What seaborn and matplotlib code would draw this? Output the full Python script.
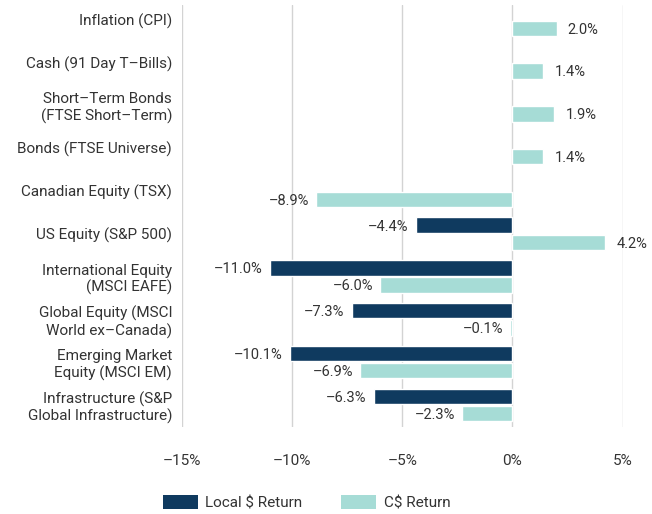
import numpy as np
import pandas as pd
import matplotlib
matplotlib.use("Agg")
import matplotlib.pyplot as plt
import seaborn as sns
from matplotlib.patches import Patch

categories = [
    "Inflation (CPI)",
    "Cash (91 Day T-Bills)",
    "Short-Term Bonds\n(FTSE Short-Term)",
    "Bonds (FTSE Universe)",
    "Canadian Equity (TSX)",
    "US Equity (S&P 500)",
    "International Equity\n(MSCI EAFE)",
    "Global Equity (MSCI\nWorld ex-Canada)",
    "Emerging Market\nEquity (MSCI EM)",
    "Infrastructure (S&P\nGlobal Infrastructure)",
]
local_return = [np.nan, np.nan, np.nan, np.nan, np.nan, -4.4, -11.0, -7.3, -10.1, -6.3]
cad_return = [2.0, 1.4, 1.9, 1.4, -8.9, 4.2, -6.0, -0.1, -6.9, -2.3]
series_names = ["Local $ Return", "C$ Return"]
x_ticks = [-15, -10, -5, 0, 5]

dark = "#0f3a5f"
teal = "#a6dcd6"
txt = "#333333"

sns.set_theme(style="white")
plt.rcParams["font.family"] = ["Roboto", "DejaVu Sans"]

df = pd.DataFrame({
    "category": categories * 2,
    "series": [series_names[0]] * len(categories) + [series_names[1]] * len(categories),
    "value": local_return + cad_return,
})

fig = plt.figure(figsize=(6.52, 5.14), dpi=100)
ax = fig.add_axes([0.279, 0.169, 0.676, 0.821])

sns.barplot(data=df, y="category", x="value", hue="series", order=categories,
            hue_order=series_names, palette=[dark, teal], orient="h",
            width=0.8, gap=0.1, ax=ax, legend=False, saturation=1)

ax.set_xlim(-15, 5)
ax.set_ylim(9.52, -0.34)
ax.set_xticks(x_ticks)
ax.set_xticklabels([f"{t}%".replace("-", "\u2013") for t in x_ticks], color=txt, fontsize=11)
ax.set_yticks(range(len(categories)))
ax.set_yticklabels([c.replace("-", "\u2013") for c in categories], color=txt, fontsize=11)
ax.tick_params(axis="x", length=0, pad=19)
ax.tick_params(axis="y", length=0, pad=7)
ax.set_xlabel("")
ax.set_ylabel("")
for s in ax.spines.values():
    s.set_visible(False)
ax.xaxis.grid(True, color="#d3d3d3", linewidth=1)
ax.set_axisbelow(True)

for cont in ax.containers:
    for bar in cont:
        v = bar.get_x() + bar.get_width()
        if np.isnan(v):
            continue
        y = bar.get_y() + bar.get_height() / 2
        label = f"{v:.1f}%".replace("-", "\u2013")
        if v >= 0:
            ax.annotate(label, (v, y), xytext=(8, -1), textcoords="offset points",
                        ha="left", va="center", fontsize=10.5, color=txt, clip_on=False)
        else:
            ax.annotate(label, (v, y), xytext=(-5, -1), textcoords="offset points",
                        ha="right", va="center", fontsize=10.5, color=txt, clip_on=False)

handles = [Patch(facecolor=dark, edgecolor="none"), Patch(facecolor=teal, edgecolor="none")]
fig.legend(handles, series_names, loc="lower center", bbox_to_anchor=(0.47, -0.02), ncol=2,
           frameon=False, fontsize=11, handlelength=2.3, handleheight=1.0,
           columnspacing=2.5, handletextpad=0.5, labelcolor=txt)

fig.savefig("out.png", dpi=100)
